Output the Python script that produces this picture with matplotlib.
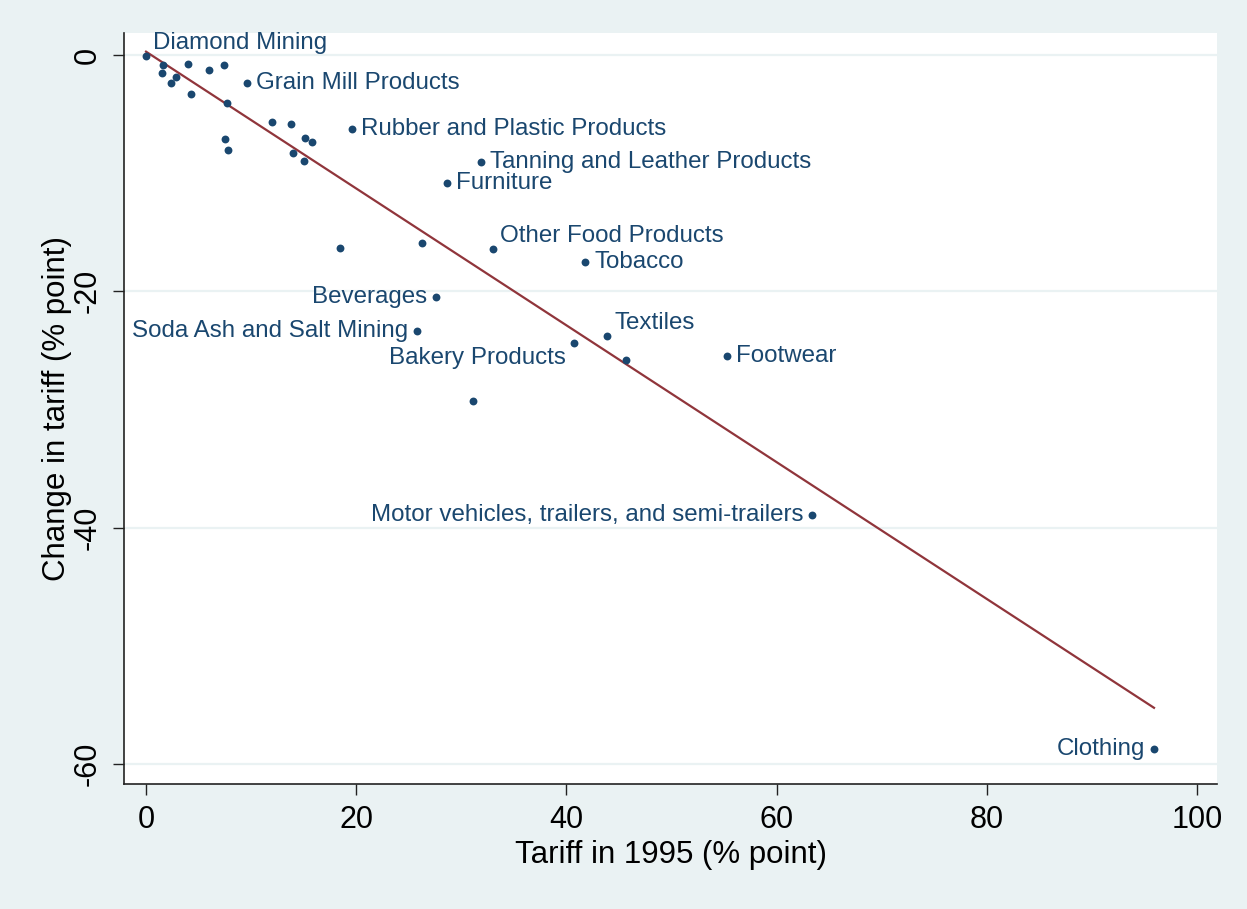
import matplotlib.pyplot as plt
import numpy as np

plt.rcParams['font.family'] = ['Liberation Sans', 'DejaVu Sans']
plt.rcParams['axes.unicode_minus'] = False

# Tariff in 1995 and the change in tariff since then, by industry
tariff_1995 = [0.0, 1.65, 1.5, 2.85, 2.35, 4.0, 4.3, 6.0, 7.4, 7.7,
               9.6, 12.0, 13.8, 15.1, 15.8, 14.0, 15.0, 7.5, 7.8,
               19.6, 31.9, 28.6, 18.5, 26.3, 33.0, 27.6, 25.8, 31.1,
               41.8, 40.7, 43.9, 45.7, 55.3, 63.4, 95.9]
tariff_change = [-0.1, -0.85, -1.5, -1.9, -2.4, -0.8, -3.3, -1.3, -0.85, -4.1,
                 -2.4, -5.7, -5.8, -7.0, -7.4, -8.3, -9.0, -7.1, -8.0,
                 -6.3, -9.05, -10.8, -16.3, -15.9, -16.4, -20.5, -23.4, -29.3,
                 -17.5, -24.4, -23.8, -25.8, -25.5, -38.9, -58.7]

# labelled industries: (index into the arrays above, label, placement)
labels = [
    (0, 'Diamond Mining', 'ur'),
    (10, 'Grain Mill Products', 'r'),
    (19, 'Rubber and Plastic Products', 'r'),
    (20, 'Tanning and Leather Products', 'r'),
    (21, 'Furniture', 'r'),
    (24, 'Other Food Products', 'ur'),
    (28, 'Tobacco', 'r'),
    (25, 'Beverages', 'l'),
    (26, 'Soda Ash and Salt Mining', 'l'),
    (29, 'Bakery Products', 'll'),
    (30, 'Textiles', 'ur'),
    (32, 'Footwear', 'r'),
    (33, 'Motor vehicles, trailers, and semi-trailers', 'l'),
    (34, 'Clothing', 'l'),
]

navy = '#1A476F'
maroon = '#90353B'
bg = '#EAF2F3'

fig = plt.figure(figsize=(12.47, 9.09), dpi=100, facecolor=bg)
ax = fig.add_axes([0.0994, 0.1375, 0.8766, 0.8262])
ax.set_facecolor('white')

x = np.array(tariff_1995)
y = np.array(tariff_change)

ax.scatter(x, y, s=32, color=navy, zorder=3, linewidths=0)

# linear fit
slope, intercept = np.polyfit(x, y, 1)
xf = np.array([x.min(), x.max()])
ax.plot(xf, intercept + slope * xf, color=maroon, lw=1.6, zorder=2)

offsets = {'r': ((9, 0), 'left', 'center'),
           'l': ((-9, 0), 'right', 'center'),
           'ur': ((7, 13), 'left', 'center'),
           'll': ((-8, -15), 'right', 'center')}
for i, text, pos in labels:
    off, ha, va = offsets[pos]
    ax.annotate(text, (x[i], y[i]), xytext=off, textcoords='offset pixels',
                ha=ha, va=va, fontsize=17.4, color=navy, zorder=4)

ax.set_xlim(-2.1, 101.9)
ax.set_ylim(-61.7, 1.86)
ax.set_xticks([0, 20, 40, 60, 80, 100])
ax.set_yticks([0, -20, -40, -60])
ax.tick_params(axis='both', labelsize=22, length=8, width=1, color='#222222', pad=7)
for lab in ax.get_yticklabels():
    lab.set_rotation(90)
    lab.set_va('center')
ax.yaxis.grid(True, color=bg, lw=1.6)
ax.set_axisbelow(True)

for side in ['top', 'right']:
    ax.spines[side].set_visible(False)
for side in ['left', 'bottom']:
    ax.spines[side].set_linewidth(1.2)
    ax.spines[side].set_color('#222222')

ax.set_xlabel('Tariff in 1995 (% point)', fontsize=22.5, labelpad=4)
ax.set_ylabel('Change in tariff (% point)', fontsize=22.5, labelpad=1)

fig.savefig('out.png', dpi=100, facecolor=bg)
